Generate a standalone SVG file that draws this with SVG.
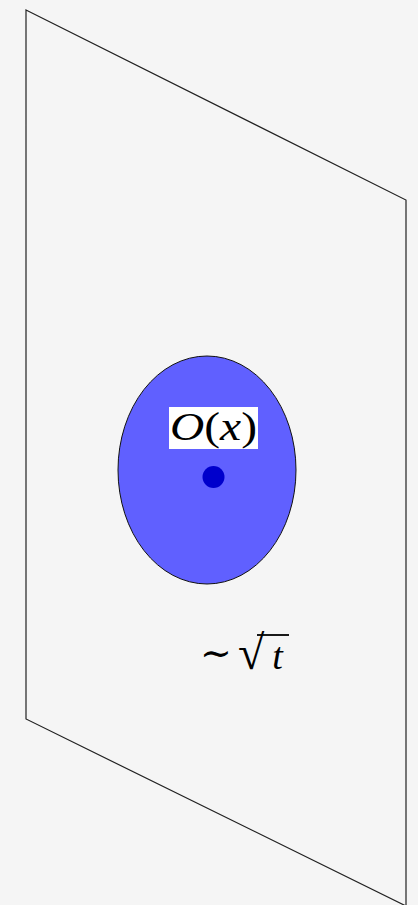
<svg xmlns="http://www.w3.org/2000/svg" width="418" height="905" viewBox="0 0 418 905">
<style>
.edge{fill:none;stroke:#222;stroke-width:1.2}
.math{font-family:"Liberation Serif","DejaVu Serif",serif;fill:#000}
.it{font-style:italic}
</style>
<rect width="418" height="905" fill="#f5f5f5"/>
<g id="plane">
<polygon class="edge" points="26,10 406,200 406,906 26,719"/>
</g>
<g id="region">
<ellipse cx="207" cy="470" rx="89" ry="114" fill="#6060ff" stroke="#111" stroke-width="1"/>
</g>
<g id="label-O">
<rect x="169" y="407" width="89" height="42" fill="#ffffff"/>
<text class="math" x="170" y="440" font-size="41" textLength="87" lengthAdjust="spacingAndGlyphs"><tspan class="it">O</tspan>(<tspan class="it">x</tspan>)</text>
</g>
<g id="point">
<circle cx="213.5" cy="477" r="11" fill="#0000cc"/>
</g>
<g id="label-scale">
<text class="math" x="200" y="666" font-size="38">∼</text>
<text class="math" x="238" y="669" font-size="48" font-family="DejaVu Serif">√<tspan font-family="Liberation Serif" font-style="italic" font-size="38" dx="8">t</tspan></text>
<line x1="257" y1="635" x2="289" y2="635" stroke="#000" stroke-width="1.8"/>
</g>
</svg>
